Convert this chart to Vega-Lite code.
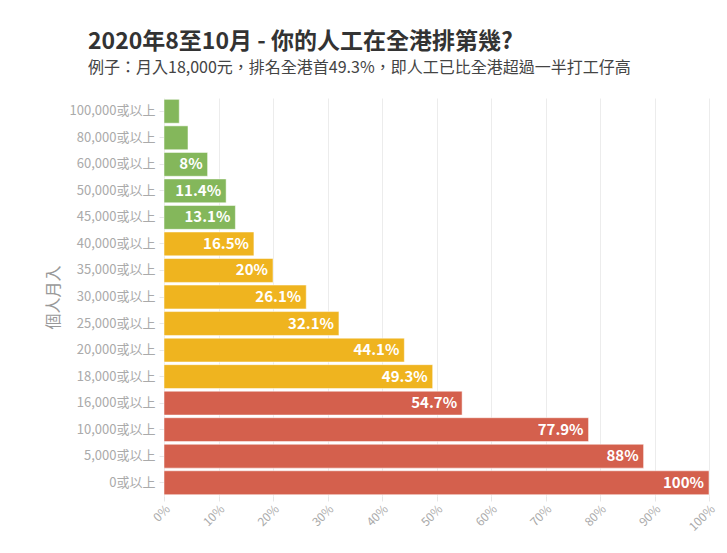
{
  "$schema": "https://vega.github.io/schema/vega-lite/v6.json",
  "width": 545,
  "height": 398,
  "autosize": {"type": "none"},
  "padding": {"left": 164, "top": 98, "right": 18, "bottom": 57},
  "background": "white",
  "config": {
    "font": "Noto Sans CJK TC",
    "view": {"stroke": null}
  },
  "title": {
    "text": "2020年8至10月 - 你的人工在全港排第幾?",
    "subtitle": "例子：月入18,000元，排名全港首49.3%，即人工已比全港超過一半打工仔高",
    "anchor": "start",
    "frame": "group",
    "dx": -76,
    "offset": 22,
    "font": "Noto Sans CJK TC",
    "fontSize": 23,
    "fontWeight": "bold",
    "color": "#333333",
    "subtitleFont": "Noto Sans CJK TC",
    "subtitleFontSize": 16,
    "subtitleColor": "#444444",
    "subtitlePadding": 6
  },
  "data": {
    "values": [
      {"income": "100,000或以上", "pct": 2.8, "label": "", "group": "high"},
      {"income": "80,000或以上", "pct": 4.4, "label": "", "group": "high"},
      {"income": "60,000或以上", "pct": 8, "label": "8%", "group": "high"},
      {"income": "50,000或以上", "pct": 11.4, "label": "11.4%", "group": "high"},
      {"income": "45,000或以上", "pct": 13.1, "label": "13.1%", "group": "high"},
      {"income": "40,000或以上", "pct": 16.5, "label": "16.5%", "group": "mid"},
      {"income": "35,000或以上", "pct": 20, "label": "20%", "group": "mid"},
      {"income": "30,000或以上", "pct": 26.1, "label": "26.1%", "group": "mid"},
      {"income": "25,000或以上", "pct": 32.1, "label": "32.1%", "group": "mid"},
      {"income": "20,000或以上", "pct": 44.1, "label": "44.1%", "group": "mid"},
      {"income": "18,000或以上", "pct": 49.3, "label": "49.3%", "group": "mid"},
      {"income": "16,000或以上", "pct": 54.7, "label": "54.7%", "group": "low"},
      {"income": "10,000或以上", "pct": 77.9, "label": "77.9%", "group": "low"},
      {"income": "5,000或以上", "pct": 88, "label": "88%", "group": "low"},
      {"income": "0或以上", "pct": 100, "label": "100%", "group": "low"}
    ]
  },
  "encoding": {
    "y": {
      "field": "income",
      "type": "nominal",
      "sort": null,
      "scale": {"paddingInner": 0.1, "paddingOuter": 0.05},
      "axis": {
        "title": "個人月入",
        "titleColor": "#999999",
        "titleFontSize": 16,
        "titleFontWeight": "normal",
        "titlePadding": 8,
        "labelColor": "#aaaaaa",
        "labelFontSize": 13,
        "labelPadding": 4,
        "tickColor": "#e6e6e6",
        "tickSize": 5,
        "domain": false
      }
    },
    "x": {
      "field": "pct",
      "type": "quantitative",
      "scale": {"domain": [0, 100], "nice": false},
      "axis": {
        "title": null,
        "values": [0, 10, 20, 30, 40, 50, 60, 70, 80, 90, 100],
        "labelExpr": "datum.value + '%'",
        "labelAngle": -45,
        "labelColor": "#aaaaaa",
        "labelFontSize": 12,
        "gridColor": "#ececec",
        "tickColor": "#e6e6e6",
        "domain": false
      }
    }
  },
  "layer": [
    {
      "mark": {"type": "bar", "stroke": "white", "strokeOpacity": 0.5, "strokeWidth": 1},
      "encoding": {
        "color": {
          "field": "group",
          "type": "nominal",
          "scale": {"domain": ["high", "mid", "low"], "range": ["#84b75b", "#efb41f", "#d4604d"]},
          "legend": null
        }
      }
    },
    {
      "mark": {"type": "text", "align": "right", "dx": -5, "color": "white", "fontWeight": "bold", "fontSize": 15, "baseline": "middle"},
      "encoding": {
        "text": {"field": "label"}
      }
    }
  ]
}
